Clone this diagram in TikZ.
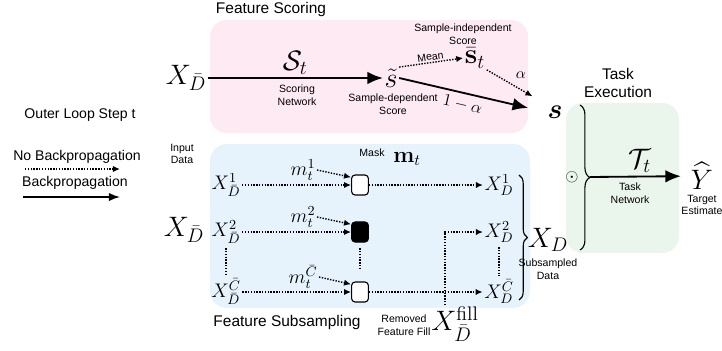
\RequirePackage{fix-cm}
\documentclass[tikz,border=0pt]{standalone}
\usepackage{amsmath,amssymb}
\usepackage[no-math]{fontspec}
\setmainfont{Liberation Sans}
\usepackage{tikz}
\usepackage{xcolor}
\usetikzlibrary{arrows.meta, positioning, calc, decorations.pathreplacing}
\definecolor{scorepink}{RGB}{253, 234, 242}
\definecolor{subblue}{RGB}{231, 243, 252}
\definecolor{taskgreen}{RGB}{234, 245, 236}

\begin{document}
\begin{tikzpicture}[
    x=0.025cm, y=0.025cm,
    head/.style={font=\fontsize{11}{13}\selectfont, align=center},
    legend/.style={font=\fontsize{10}{12}\selectfont},
    tag/.style={font=\fontsize{7.5}{9}\selectfont, align=center, inner sep=1pt},
    big/.style={font=\fontsize{20}{22}\selectfont, inner sep=1pt},
    feat/.style={font=\fontsize{14}{16}\selectfont, inner sep=1pt},
    maskbox/.style={draw, thick, rounded corners=2.5pt, minimum width=0.42cm, minimum height=0.5cm, inner sep=0pt, fill=white},
    grad/.style={line width=1.3pt, -{Latex[length=11pt,width=9pt]}},
    nograd/.style={line width=1pt, densely dotted, -{Latex[length=5pt,width=4.5pt]}},
    bracket/.style={thick, decorate, decoration={brace, amplitude=7pt}}
]
\useasboundingbox (0,0) rectangle (722,350);

% Backgrounds
\fill[scorepink, rounded corners=12pt] (210,217) rectangle (528,330);
\fill[subblue, rounded corners=12pt] (210,42) rectangle (530,206);
\fill[taskgreen, rounded corners=12pt] (566,97) rectangle (679,247);

% Legend (left)
\node[legend] (looplab) at (80,235) {Outer Loop Step t};
\node[legend] (nolab) at (77,193) {No Backpropagation};
\coordinate (noa) at (25,181);
\coordinate (nob) at (120,181);
\draw[nograd] (noa) -- (nob);
\node[legend] (yeslab) at (75,167) {Backpropagation};
\coordinate (yesa) at (23,153);
\coordinate (yesb) at (120,153);
\draw[line width=1.1pt, -{Latex[length=8pt,width=6pt]}] (yesa) -- (yesb);

% Feature scoring (top)
\node[head] (scorehead) at (271,340) {Feature Scoring};
\node[big] (xtop) at (186,272) {$X_{\bar{D}}$};
\node[big] (stil) at (391,272) {$\tilde{s}$};
\draw[grad] (xtop) -- (stil)
    node[midway, above=1pt, big] {$\mathcal{S}_t$};
\node[tag] (scorenet) at (297,255) {Scoring\\Network};
\node[tag] (sdep) at (393,246) {Sample-dependent\\Score};
\node[big] (sbar) at (475,292) {$\bar{\mathbf{s}}_t$};
\node[tag] (sind) at (463,316) {Sample-independent\\Score};
\node[big] (sfin) at (555,238) {$\boldsymbol{s}$};

\draw[nograd] (stil.north east) -- (sbar.west)
    node[midway, above, sloped, tag] {Mean};
\draw[nograd, shorten >=11pt] (sbar.south east) -- (sfin.north west)
    node[pos=0.4, above right, font=\fontsize{11}{13}\selectfont] {$\alpha$};
\draw[grad, shorten >=13pt] (stil.east) -- (sfin.west)
    node[pos=0.45, below, sloped, font=\fontsize{12}{14}\selectfont] {$1-\alpha$};

% Feature subsampling (bottom)
\node[tag] (inlab) at (182,196) {Input\\Data};
\node[big] (xleft) at (184,120) {$X_{\bar{D}}$};
\node[tag] (masklab) at (372,197) {Mask};
\node[font=\fontsize{16}{18}\selectfont, inner sep=1pt] (mvec) at (407,191) {$\mathbf{m}_t$};

\node[feat] (xa1) at (226,165) {$X^{1}_{\bar{D}}$};
\node[feat] (xa2) at (226,118) {$X^{2}_{\bar{D}}$};
\node[feat] (xa3) at (226,58) {$X^{\bar{C}}_{\bar{D}}$};

\node[maskbox] (mk1) at (360,165) {};
\node[maskbox, fill=black] (mk2) at (360,118) {};
\node[maskbox] (mk3) at (360,58) {};

\node[feat] (ml1) at (303,180) {$m^{1}_{t}$};
\node[feat] (ml2) at (303,133) {$m^{2}_{t}$};
\node[feat] (ml3) at (303,73) {$m^{\bar{C}}_{t}$};

\node[feat] (xd1) at (499,165) {$X^{1}_{D}$};
\node[feat] (xd2) at (499,118) {$X^{2}_{D}$};
\node[feat] (xd3) at (499,58) {$X^{\bar{C}}_{D}$};

\draw[nograd] (xa1) -- (mk1);
\draw[nograd] (xa2) -- (mk2);
\draw[nograd] (xa3) -- (mk3);
\draw[nograd] (ml1.east) -- ([yshift=-2pt]mk1.north west);
\draw[nograd] (ml2.east) -- ([yshift=-2pt]mk2.north west);
\draw[nograd] (ml3.east) -- ([yshift=-2pt]mk3.north west);
\draw[nograd] (mk1) -- (xd1);
\draw[nograd] (mk3) -- (xd3);

\draw[line width=1pt, densely dotted, shorten <=2pt, shorten >=2pt] (xa2.south) -- (xa3.north);
\draw[line width=1pt, densely dotted, shorten <=4pt, shorten >=8pt] (mk2.south) -- (mk3.north);
\draw[line width=1pt, densely dotted, shorten <=2pt, shorten >=2pt] (xd2.south) -- (xd3.north);

% Removed feature fill
\node[big] (xfill) at (455,26) {$X^{\mathrm{fill}}_{\bar{D}}$};
\node[tag] (filllab) at (404,25) {Removed\\Feature Fill};
\coordinate (fillup) at (445,118);
\draw[nograd] (xfill.north -| fillup) -- (fillup) -- (xd2);

\draw[bracket, decoration={amplitude=6pt}] (519,175) -- (519,50);
\node[big] (xsub) at (548,110) {$X_D$};
\node[tag] (sublab) at (548,81) {Subsampled\\Data};
\node[head] (subhead) at (287,28) {Feature Subsampling};

% Task execution (right)
\node[head] (taskhead) at (618,267) {Task\\Execution};
\draw[bracket] (580,245) -- (580,100);
\coordinate (tasktip) at (590,173);
\node[font=\fontsize{12}{14}\selectfont, inner sep=1pt] (odot) at (572,173) {$\odot$};
\node[big] (yhat) at (702,174) {$\widehat{Y}$};
\draw[grad, shorten >=6pt] (tasktip) -- (yhat)
    node[midway, above=1pt, big] {$\mathcal{T}_t$};
\node[tag] (tasknet) at (630,157) {Task\\Network};
\node[tag] (ylab) at (702,145) {Target\\Estimate};

\end{tikzpicture}
\end{document}
